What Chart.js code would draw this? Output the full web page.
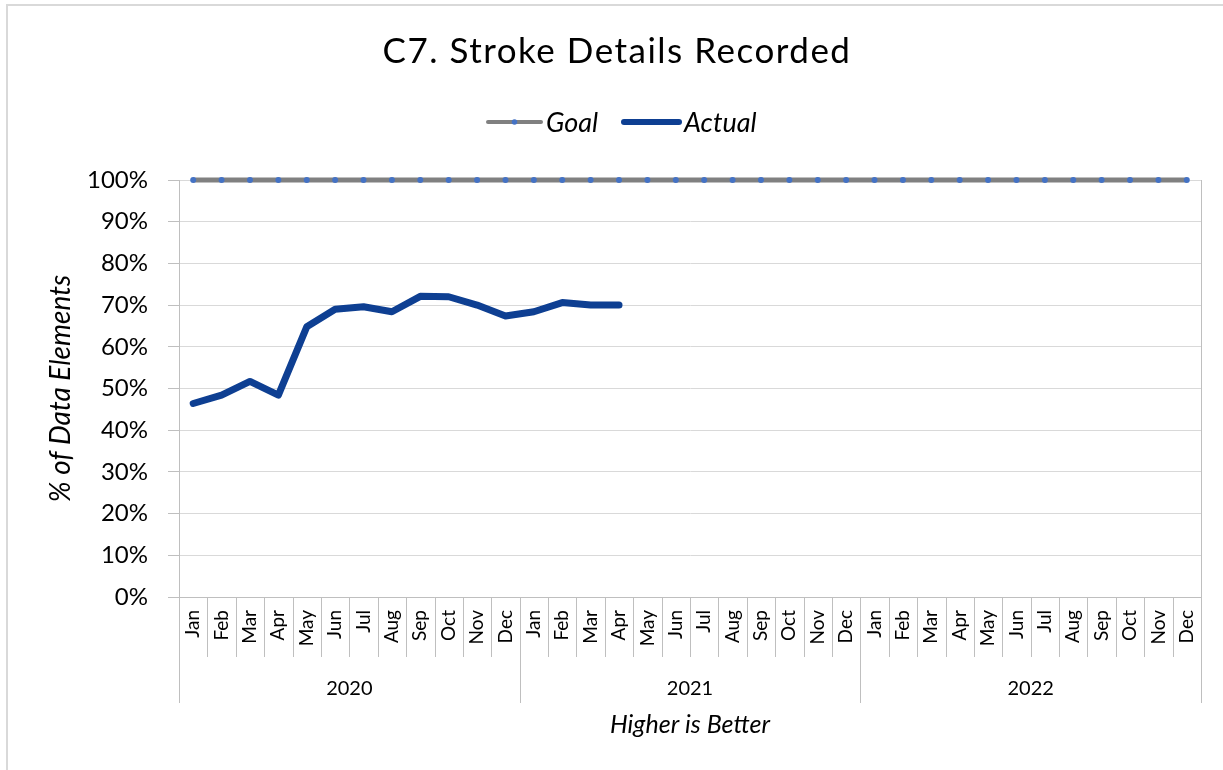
<!DOCTYPE html>
<html>
<head>
<meta charset="utf-8">
<script src="https://cdn.jsdelivr.net/npm/chart.js@4.4.1/dist/chart.umd.min.js"></script>
<style>
  html, body { margin: 0; padding: 0; background: #fff; }
  #wrap { width: 1223px; height: 770px; }
</style>
</head>
<body>
<div id="wrap"><canvas id="chart" width="1223" height="770"></canvas></div>
<script>
// chart data
const TITLE = 'C7. Stroke Details Recorded';
const years = ['2020', '2021', '2022'];
const months = ['Jan', 'Feb', 'Mar', 'Apr', 'May', 'Jun', 'Jul', 'Aug', 'Sep', 'Oct', 'Nov', 'Dec'];
const goalValues = [100, 100, 100, 100, 100, 100, 100, 100, 100, 100, 100, 100,
                    100, 100, 100, 100, 100, 100, 100, 100, 100, 100, 100, 100,
                    100, 100, 100, 100, 100, 100, 100, 100, 100, 100, 100, 100];
const actualValues = [46.4, 48.4, 51.7, 48.4, 64.8, 69.0, 69.6, 68.4, 72.1, 72.0, 70.0, 67.4,
                      68.4, 70.6, 70.0, 70.0];
const yTitle = '% of Data Elements';
const xTitle = 'Higher is Better';

const FONT = 'Lato, "Open Sans", sans-serif';
const GOAL_COLOR = '#808080';
const GOAL_DOT = '#4472c4';
const ACTUAL_COLOR = '#0e3f92';
const AXIS_GREY = '#bfbfbf';

// one label per month, year grouping is drawn by the plugin below
const labels = [];
years.forEach(() => months.forEach(m => labels.push(m)));

/** Draws title, legend, the year row and the separators under the axis */
const decorPlugin = {
  id: 'decor',
  afterDraw(chart) {
    const {ctx, chartArea: area, scales: {x}} = chart;
    ctx.save();

    // light frame at the top and left edge
    ctx.strokeStyle = '#d9d9d9';
    ctx.lineWidth = 2;
    ctx.beginPath();
    ctx.moveTo(7, 770);
    ctx.lineTo(7, 5);
    ctx.lineTo(1223, 5);
    ctx.stroke();

    // title
    ctx.fillStyle = '#000';
    ctx.textAlign = 'center';
    ctx.textBaseline = 'middle';
    ctx.font = '35px ' + FONT;
    ctx.letterSpacing = '1.5px';
    ctx.fillText(TITLE, 617, 52);
    ctx.letterSpacing = '0px';

    // legend
    const legendY = 122;
    const items = [
      {label: 'Goal', color: GOAL_COLOR, width: 4, dot: GOAL_DOT, x0: 488, x1: 541},
      {label: 'Actual', color: ACTUAL_COLOR, width: 6, dot: ACTUAL_COLOR, x0: 624, x1: 679}
    ];
    ctx.font = 'italic 27px ' + FONT;
    ctx.textAlign = 'left';
    items.forEach(it => {
      ctx.strokeStyle = it.color;
      ctx.lineWidth = it.width;
      ctx.lineCap = 'round';
      ctx.beginPath();
      ctx.moveTo(it.x0, legendY);
      ctx.lineTo(it.x1, legendY);
      ctx.stroke();
      ctx.fillStyle = it.dot;
      ctx.beginPath();
      ctx.arc((it.x0 + it.x1) / 2, legendY, 2.8, 0, Math.PI * 2);
      ctx.fill();
      ctx.fillStyle = '#000';
      ctx.fillText(it.label, it.x1 + 5, legendY + 1);
    });

    // separators between months and between years
    ctx.strokeStyle = AXIS_GREY;
    ctx.lineWidth = 1;
    ctx.lineCap = 'butt';
    for (let i = 0; i <= labels.length; i++) {
      const px = Math.round(x.getPixelForValue(i - 0.5)) + 0.5;
      const bottom = (i % months.length === 0) ? 703 : 657;
      ctx.beginPath();
      ctx.moveTo(px, area.bottom);
      ctx.lineTo(px, bottom);
      ctx.stroke();
    }
    // right edge of the plot
    ctx.beginPath();
    ctx.moveTo(Math.round(area.right) + 0.5, area.top);
    ctx.lineTo(Math.round(area.right) + 0.5, area.bottom);
    ctx.stroke();

    // year labels
    ctx.fillStyle = '#000';
    ctx.font = '20px ' + FONT;
    ctx.textAlign = 'center';
    years.forEach((yr, k) => {
      const start = x.getPixelForValue(k * months.length - 0.5);
      const end = x.getPixelForValue((k + 1) * months.length - 0.5);
      ctx.fillText(yr, (start + end) / 2, 689);
    });

    ctx.restore();
  }
};

const config = {
  type: 'line',
  data: {
    labels: labels,
    datasets: [{
      label: 'Goal',
      data: goalValues,
      borderColor: GOAL_COLOR,
      borderWidth: 5,
      pointRadius: 3,
      pointBackgroundColor: GOAL_DOT,
      pointBorderWidth: 0,
      tension: 0,
      clip: false,
      order: 2
    }, {
      label: 'Actual',
      data: actualValues,
      borderColor: ACTUAL_COLOR,
      borderWidth: 7,
      borderCapStyle: 'round',
      borderJoinStyle: 'round',
      pointRadius: 0,
      tension: 0,
      spanGaps: false,
      clip: false,
      order: 1
    }]
  },
  options: {
    responsive: false,
    animation: false,
    events: [],
    layout: {padding: {top: 180, right: 22, bottom: 0, left: 0}},
    plugins: {
      legend: {display: false},
      title: {display: false},
      tooltip: {enabled: false}
    },
    scales: {
      x: {
        type: 'category',
        offset: true,
        grid: {display: false, drawTicks: false},
        border: {display: true, color: AXIS_GREY, width: 1},
        ticks: {
          autoSkip: false,
          minRotation: 90,
          maxRotation: 90,
          padding: 13,
          color: '#000',
          font: {family: FONT, size: 19}
        },
        title: {
          display: true,
          text: xTitle,
          color: '#000',
          font: {family: FONT, size: 25, style: 'italic'},
          padding: {top: 0, bottom: 30}
        },
        afterFit(scale) { scale.height = 173; }
      },
      y: {
        min: 0,
        max: 100,
        grid: {color: '#d9d9d9', tickColor: AXIS_GREY, tickLength: 11, lineWidth: 1},
        border: {display: true, color: AXIS_GREY, width: 1},
        ticks: {
          stepSize: 10,
          padding: 20,
          color: '#000',
          font: {family: FONT, size: 24},
          callback: v => v + '%'
        },
        title: {
          display: true,
          text: yTitle,
          color: '#000',
          font: {family: FONT, size: 28, style: 'italic'},
          padding: {top: 44, bottom: 0}
        },
        afterFit(scale) { scale.width = 179; }
      }
    }
  },
  plugins: [decorPlugin]
};

new Chart(document.getElementById('chart'), config);
</script>
</body>
</html>
